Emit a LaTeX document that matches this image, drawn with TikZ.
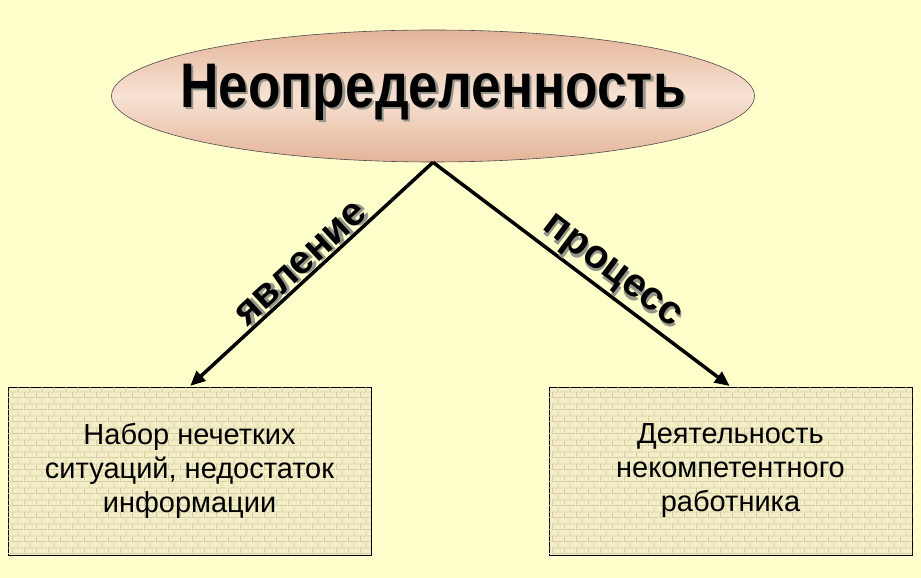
\documentclass[tikz,border=0pt]{standalone}
\usepackage{fontspec}
\setmainfont{Liberation Sans}
\usetikzlibrary{shapes.geometric,arrows.meta,patterns.meta}

\definecolor{pagebg}{RGB}{255,255,204}
\definecolor{ovaltop}{RGB}{228,180,152}
\definecolor{ovalmid}{RGB}{247,226,211}
\definecolor{boxfill}{RGB}{243,238,200}
\definecolor{brickline}{RGB}{214,206,160}
\definecolor{shadowgray}{RGB}{150,150,140}

\tikzdeclarepattern{
  name=brickwall, type=uncolored,
  bounding box={(0,0) and (12pt,12pt)},
  tile size={(12pt,12pt)},
  code={
    \draw[line width=0.7pt] (0,0.5pt) -- (12pt,0.5pt) (0,6.5pt) -- (12pt,6.5pt)
      (0.5pt,0.5pt) -- (0.5pt,6.5pt) (6.5pt,6.5pt) -- (6.5pt,12pt);
  }
}

\tikzset{
  oval/.style={ellipse, draw=black!70, line width=0.6pt, minimum width=643pt,
    minimum height=132pt, inner sep=0pt, top color=ovaltop, bottom color=ovaltop,
    middle color=ovalmid},
  titletext/.style={font=\bfseries\fontsize{63}{63}\selectfont, xscale=0.845, inner sep=0pt},
  infobox/.style={draw=black, line width=0.8pt, minimum width=363pt, minimum height=168pt,
    fill=boxfill, postaction={pattern=brickwall, pattern color=brickline},
    align=center, font=\fontsize{29}{34}\selectfont},
  flow/.style={line width=3.5pt, -{Triangle[length=15pt,width=13pt]}, shorten >=1pt},
  lbl/.style={font=\bfseries\fontsize{40}{40}\selectfont, inner sep=2pt},
  dropshadow/.style={text=shadowgray, xshift=2.5pt, yshift=-2.5pt}
}

\begin{document}
\begin{tikzpicture}[x=1pt,y=1pt]
\fill[pagebg] (0,0) rectangle (921,578);
\useasboundingbox (0,0) rectangle (921,578);

% oval on top
\node[oval] (top) at (433,482) {};
\node[titletext, dropshadow] at ([yshift=4pt]top.center) {Неопределенность};
\node[titletext] (title) at ([yshift=4pt]top.center) {Неопределенность};

% the two boxes
\node[infobox] (phen) at (189.5,107) {Набор нечетких\\ситуаций, недостаток\\информации};
\node[infobox] (proc) at (730.5,107) {Деятельность\\некомпетентного\\работника};

% connectors
\draw[flow] (top.south) -- (phen.north)
  node[lbl, sloped, above, pos=0.5, dropshadow] {явление}
  node[lbl, sloped, above, pos=0.5] {явление};
\draw[flow] (top.south) -- (proc.north)
  node[lbl, sloped, above, pos=0.56, dropshadow] {процесс}
  node[lbl, sloped, above, pos=0.56] {процесс};

\end{tikzpicture}
\end{document}
